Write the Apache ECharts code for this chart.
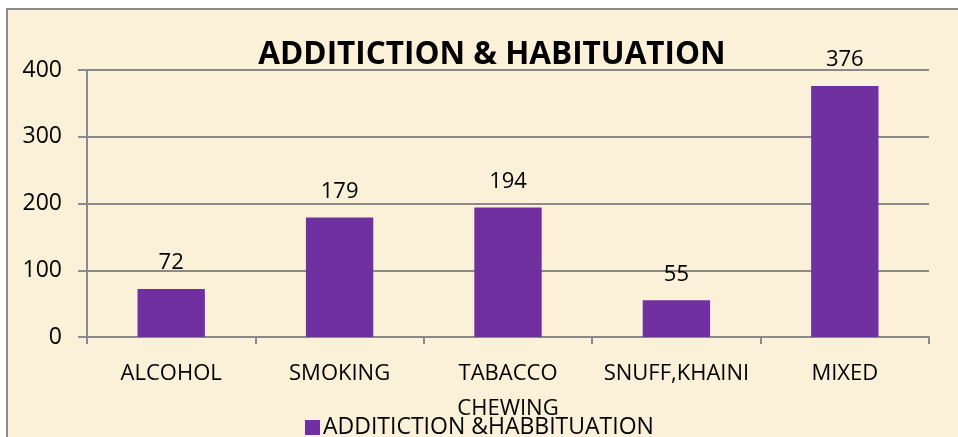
<!DOCTYPE html>
<html>
<head>
<meta charset="utf-8">
<script src="https://cdn.jsdelivr.net/npm/echarts@6/dist/echarts.min.js"></script>
<style>
  html, body { margin: 0; padding: 0; background: #fff; }
  #main { width: 958px; height: 437px; }
</style>
</head>
<body>
<div id="main"></div>
<script>
var categories = ['ALCOHOL', 'SMOKING', 'TABACCO\nCHEWING', 'SNUFF,KHAINI', 'MIXED'];
var values = [72, 179, 194, 55, 376];
var seriesName = 'ADDITICTION &HABBITUATION';
var titleText = 'ADDITICTION & HABITUATION';

var chart = echarts.init(document.getElementById('main'));
var font = '"Open Sans", sans-serif';
var option = {
  backgroundColor: '#fff',
  animation: false,
  // parchment panel with grey frame
  graphic: [{
    type: 'rect',
    z: -10,
    shape: { x: 7, y: 9, width: 1000, height: 500 },
    style: { fill: '#fbf0d8', stroke: '#8c8c8c', lineWidth: 2 }
  }],
  title: {
    text: titleText,
    left: 487,
    textAlign: 'center',
    top: 34,
    textStyle: { fontFamily: font, fontSize: 31.5, fontWeight: 'bold', color: '#000' }
  },
  legend: {
    data: [seriesName],
    left: 300,
    top: 411,
    icon: 'rect',
    itemWidth: 15,
    itemHeight: 15,
    itemGap: 6,
    textStyle: { fontFamily: font, fontSize: 23, color: '#000', padding: [0, 0, 0, -2] }
  },
  grid: { left: 87, right: 29, top: 70, bottom: 100 },
  xAxis: {
    type: 'category',
    data: categories,
    axisLine: { lineStyle: { color: '#8a8a8a', width: 2 } },
    axisTick: { show: true, length: 7, lineStyle: { color: '#8a8a8a', width: 2 } },
    axisLabel: { fontFamily: font, fontSize: 22, color: '#000', margin: 19, lineHeight: 35, interval: 0 }
  },
  yAxis: {
    type: 'value',
    min: 0,
    max: 400,
    interval: 100,
    axisLine: { show: true, lineStyle: { color: '#8a8a8a', width: 2 } },
    axisTick: { show: true, length: 9, lineStyle: { color: '#8a8a8a', width: 2 } },
    axisLabel: { fontFamily: font, fontSize: 23, color: '#000', margin: 25 },
    splitLine: { lineStyle: { color: '#8a8a8a', width: 2 } }
  },
  series: [{
    name: seriesName,
    type: 'bar',
    data: values,
    barWidth: '40%',
    itemStyle: { color: '#7030a0' },
    label: {
      show: true,
      position: 'top',
      distance: 15,
      fontFamily: font,
      fontSize: 22,
      color: '#000'
    }
  }]
};
chart.setOption(option);
</script>
</body>
</html>
